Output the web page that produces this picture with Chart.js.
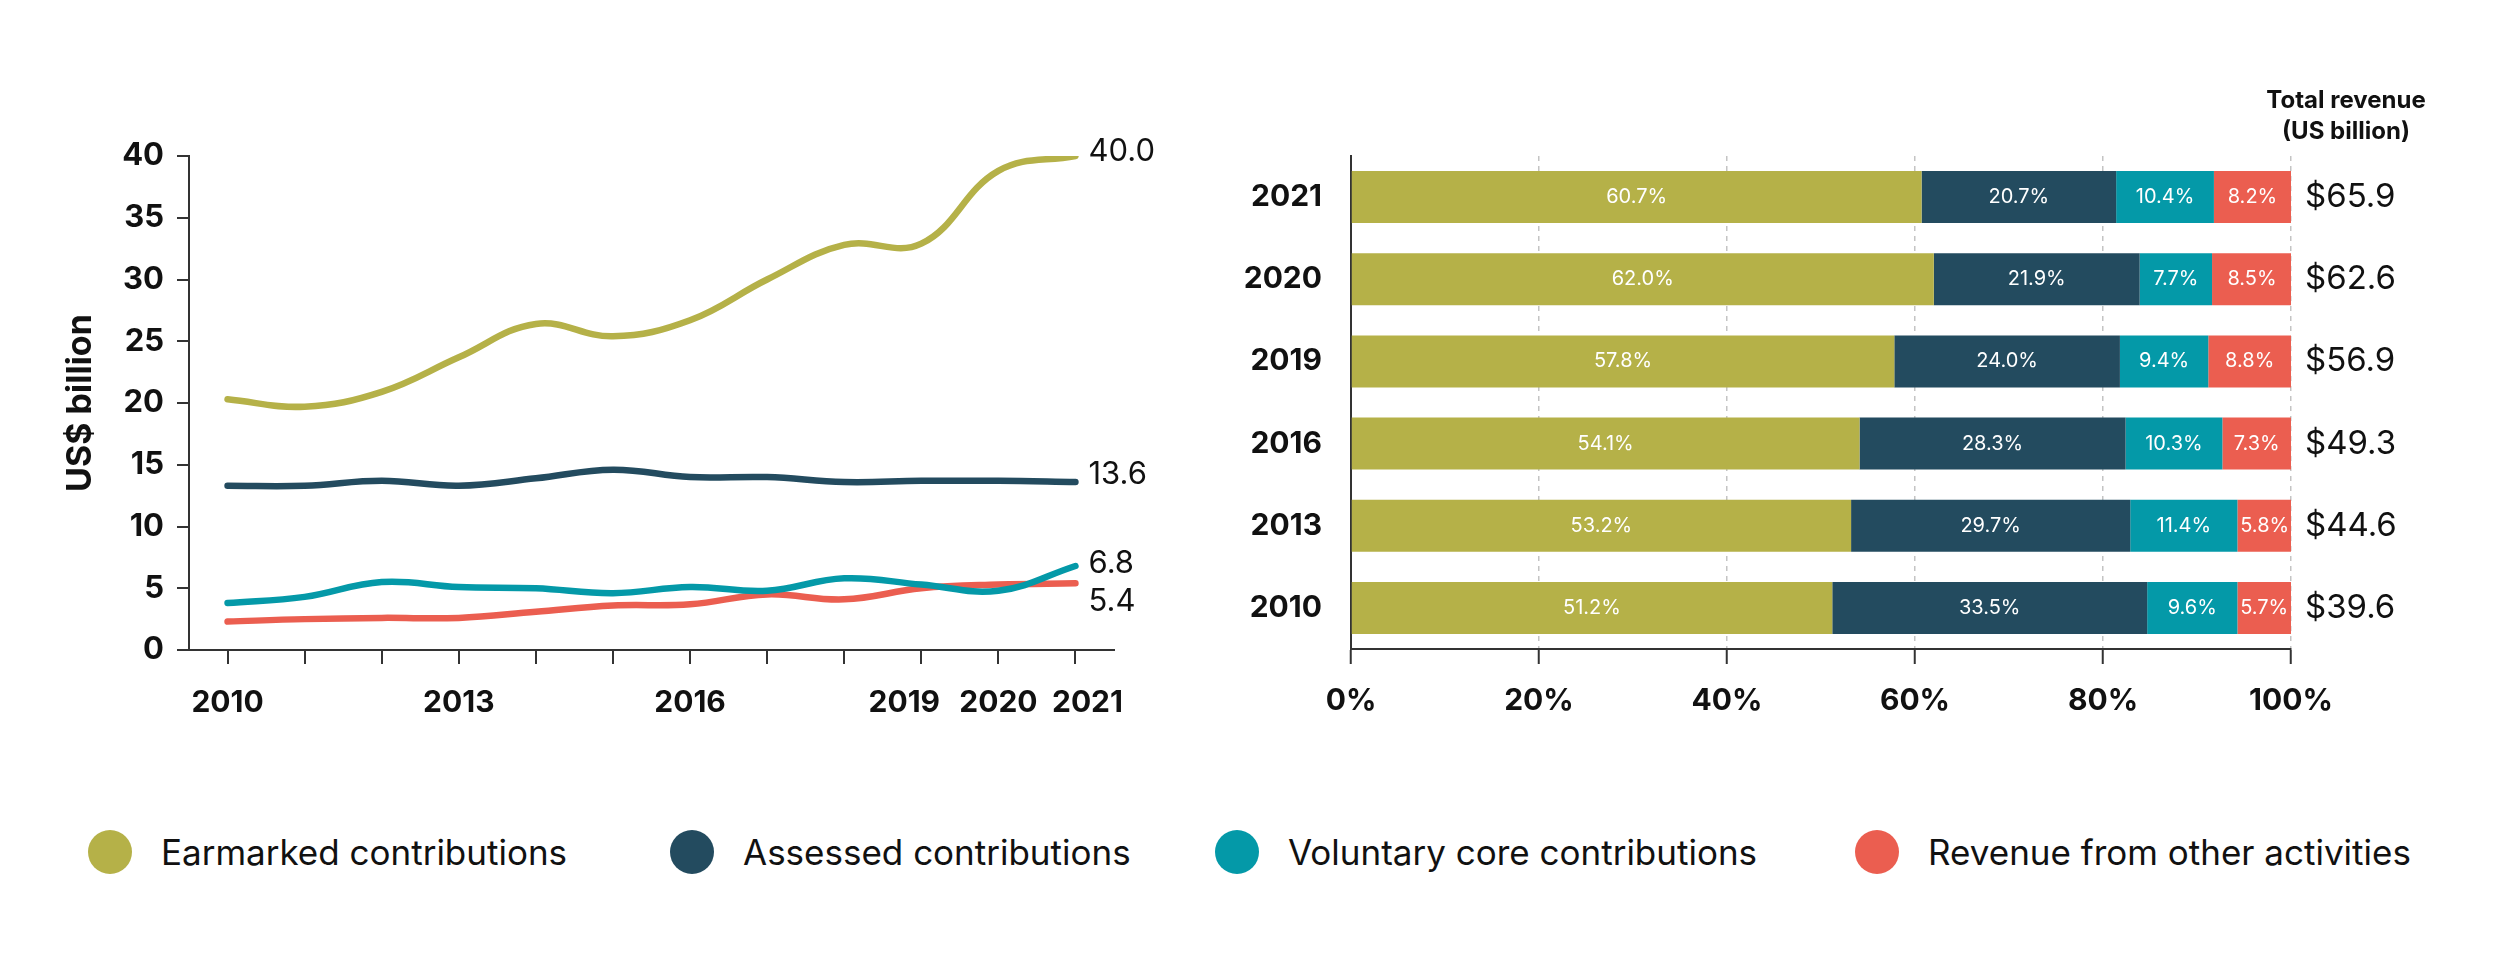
<!DOCTYPE html>
<html>
<head>
<meta charset="utf-8">
<script src="https://cdn.jsdelivr.net/npm/chart.js@4.4.0/dist/chart.umd.min.js"></script>
<style>
  body { margin: 0; background: #fff; width: 2500px; height: 971px; position: relative; overflow: hidden; font-family: Inter, sans-serif; }
  .box { position: absolute; top: 0; height: 760px; }
  #lineBox { left: 0; width: 1220px; }
  #barBox { left: 1220px; width: 1280px; }
  .legend-item { position: absolute; top: 830px; height: 44px; display: flex; align-items: center; font-size: 35px; color: #111; white-space: nowrap; }
  .legend-item span.dot { width: 44px; height: 44px; border-radius: 50%; margin-right: 29px; display: inline-block; flex: none; }
</style>
</head>
<body>
<div class="box" id="lineBox"><canvas id="lineChart"></canvas></div>
<div class="box" id="barBox"><canvas id="barChart"></canvas></div>
<div id="legend"></div>
<script>
// line chart: US$ billion per year
const years = ['2010','2011','2012','2013','2014','2015','2016','2017','2018','2019','2020','2021'];
const shownYears = ['2010','2013','2016','2019','2020','2021'];
const earmarked = [20.3, 19.7, 20.9, 23.7, 26.4, 25.4, 26.7, 30.0, 32.8, 32.9, 38.8, 40.0];
const assessed  = [13.3, 13.3, 13.7, 13.3, 13.9, 14.6, 14.0, 14.0, 13.6, 13.7, 13.7, 13.6];
const voluntary = [3.8, 4.3, 5.5, 5.1, 5.0, 4.6, 5.1, 4.8, 5.8, 5.3, 4.8, 6.8];
const other     = [2.3, 2.5, 2.6, 2.6, 3.1, 3.6, 3.7, 4.5, 4.1, 5.0, 5.3, 5.4];
const yTicks = [0, 5, 10, 15, 20, 25, 30, 35, 40];

// bar chart: share of revenue (%)
const barYears = ['2021','2020','2019','2016','2013','2010'];
const earmarkedPct = [60.7, 62.0, 57.8, 54.1, 53.2, 51.2];
const assessedPct  = [20.7, 21.9, 24.0, 28.3, 29.7, 33.5];
const voluntaryPct = [10.4, 7.7, 9.4, 10.3, 11.4, 9.6];
const otherPct     = [8.2, 8.5, 8.8, 7.3, 5.8, 5.7];
const totals = [65.9, 62.6, 56.9, 49.3, 44.6, 39.6];
const pctTicks = [0, 20, 40, 60, 80, 100];

const seriesNames = ['Earmarked contributions', 'Assessed contributions', 'Voluntary core contributions', 'Revenue from other activities'];
const colors = ['#B5B148', '#234B5F', '#0499A8', '#EB5E50'];

Chart.defaults.font.family = 'Inter, sans-serif';
Chart.defaults.color = '#111';
Chart.defaults.animation = false;

// small nudges so the last three year labels don't touch
const yearLabelNudge = { '2019': -17, '2021': 12 };
const endLabelOffsets = [-4, -7, -2, 18];

const lineText = {
  id: 'lineText',
  afterDatasetsDraw(chart) {
    const ctx = chart.ctx;
    ctx.save();
    ctx.font = '31px Inter, sans-serif';
    ctx.fillStyle = '#111';
    ctx.textBaseline = 'middle';
    ctx.textAlign = 'left';
    chart.data.datasets.forEach((ds, i) => {
      const meta = chart.getDatasetMeta(i);
      const pt = meta.data[meta.data.length - 1];
      const v = ds.data[ds.data.length - 1];
      ctx.fillText(v.toFixed(1), pt.x + 13, pt.y + endLabelOffsets[i]);
    });
    // year labels under the x axis
    const xs = chart.scales.x;
    ctx.font = 'bold 30px Inter, sans-serif';
    ctx.textAlign = 'center';
    shownYears.forEach(y => {
      const x = xs.getPixelForValue(years.indexOf(y)) + (yearLabelNudge[y] || 0);
      ctx.fillText(y, x, 703);
    });
    ctx.restore();
  }
};

new Chart(document.getElementById('lineChart'), {
  type: 'line',
  data: {
    labels: years,
    datasets: [earmarked, assessed, voluntary, other].map((d, i) => ({
      label: seriesNames[i],
      data: d,
      borderColor: colors[i],
      borderWidth: 6.5,
      borderCapStyle: 'round',
      pointRadius: 0,
      tension: 0.4,
      fill: false
    }))
  },
  options: {
    responsive: true,
    maintainAspectRatio: false,
    layout: { padding: { left: 0, top: 156, right: 106, bottom: 30 } },
    plugins: { legend: { display: false }, tooltip: { enabled: false } },
    scales: {
      x: {
        offset: true,
        grid: { drawOnChartArea: false, tickLength: 14, color: '#333', lineWidth: 2 },
        border: { color: '#333', width: 2 },
        ticks: { display: false },
        afterFit: s => { s.height = 80; }
      },
      y: {
        min: 0, max: 40,
        afterBuildTicks: s => { s.ticks = yTicks.map(v => ({ value: v })); },
        grid: { drawOnChartArea: false, tickLength: 12, color: '#333', lineWidth: 2 },
        border: { color: '#333', width: 2 },
        ticks: { padding: 13, font: { size: 31, weight: 'bold' } },
        title: { display: true, text: 'US$ billion', font: { size: 34, weight: 'bold' }, padding: { top: 60, bottom: 0 } },
        afterFit: s => { s.width = 189; }
      }
    }
  },
  plugins: [lineText]
});

const barLabels = {
  id: 'barLabels',
  afterDatasetsDraw(chart) {
    const ctx = chart.ctx;
    const area = chart.chartArea;
    ctx.save();
    ctx.textBaseline = 'middle';
    ctx.textAlign = 'center';
    ctx.font = '20px Inter, sans-serif';
    ctx.fillStyle = '#fff';
    chart.data.datasets.forEach((ds, i) => {
      chart.getDatasetMeta(i).data.forEach((el, j) => {
        ctx.fillText(ds.data[j].toFixed(1) + '%', (el.x + el.base) / 2, el.y);
      });
    });
    ctx.fillStyle = '#111';
    ctx.textAlign = 'left';
    ctx.font = '33px Inter, sans-serif';
    totals.forEach((t, j) => {
      ctx.fillText('$' + t.toFixed(1), area.right + 14, chart.scales.y.getPixelForValue(j));
    });
    ctx.textAlign = 'center';
    ctx.font = 'bold 24px Inter, sans-serif';
    ctx.fillText('Total revenue', area.right + 55, 101);
    ctx.fillText('(US billion)', area.right + 55, 132);
    ctx.restore();
  }
};

new Chart(document.getElementById('barChart'), {
  type: 'bar',
  data: {
    labels: barYears,
    datasets: [earmarkedPct, assessedPct, voluntaryPct, otherPct].map((d, i) => ({
      label: seriesNames[i],
      data: d,
      backgroundColor: colors[i],
      borderWidth: 0,
      categoryPercentage: 1,
      barPercentage: 0.633
    }))
  },
  options: {
    indexAxis: 'y',
    responsive: true,
    maintainAspectRatio: false,
    layout: { padding: { left: 0, top: 156, right: 209, bottom: 31 } },
    plugins: { legend: { display: false }, tooltip: { enabled: false } },
    scales: {
      x: {
        stacked: true,
        min: 0, max: 100,
        afterBuildTicks: s => { s.ticks = pctTicks.map(v => ({ value: v })); },
        grid: { color: '#c4c4c4', lineWidth: 1.5, tickLength: 15, tickColor: '#333', tickWidth: 2 },
        border: { color: '#333', width: 2, dash: [5, 5] },
        ticks: { padding: 19, font: { size: 30, weight: 'bold' }, callback: v => v + '%' },
        afterFit: s => { s.height = 80; }
      },
      y: {
        stacked: true,
        grid: { display: false },
        border: { color: '#333', width: 2 },
        ticks: { padding: 21, font: { size: 30, weight: 'bold' } },
        afterFit: s => { s.width = 131; }
      }
    }
  },
  plugins: [barLabels]
});

// legend
const legendLefts = [88, 670, 1215, 1855];
const legend = document.getElementById('legend');
seriesNames.forEach((name, i) => {
  const item = document.createElement('div');
  item.className = 'legend-item';
  item.style.left = legendLefts[i] + 'px';
  const dot = document.createElement('span');
  dot.className = 'dot';
  dot.style.background = colors[i];
  item.appendChild(dot);
  item.appendChild(document.createTextNode(name));
  legend.appendChild(item);
});
</script>
</body>
</html>
